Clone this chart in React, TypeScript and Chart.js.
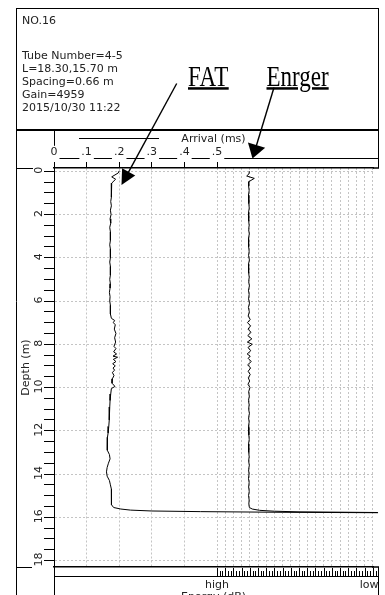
import React, { useEffect, useRef } from "react";
import { Chart, registerables } from "chart.js";

Chart.register(...registerables);

// ---- data ----
const fatDepth = [
  -0.02, 0.08, 0.26, 0.37, 0.55, 0.8, 1.0, 1.2, 1.4, 1.6,
  1.8, 2.0, 2.2, 2.4, 2.6, 2.8, 3.0, 3.2, 3.4, 3.6,
  3.8, 4.0, 4.2, 4.4, 4.6, 4.8, 5.0, 5.2, 5.4, 5.6,
  5.8, 6.0, 6.2, 6.4, 6.6, 6.8, 6.9, 7.0, 7.1, 7.3,
  7.5, 7.7, 7.9, 8.1, 8.2, 8.35, 8.45, 8.55, 8.6, 8.7,
  8.8, 8.9, 9.0, 9.1, 9.2, 9.3, 9.45, 9.6, 9.8, 9.95,
  10.05, 10.3, 10.6, 10.9, 11.2, 11.5, 11.8, 12.1, 12.3, 12.6,
  12.9, 13.1, 13.3, 13.5, 13.7, 13.9, 14.1, 14.3, 14.5, 14.7,
  14.9, 15.1, 15.3, 15.42, 15.55, 15.62, 15.67, 15.71, 15.74, 15.77,
  15.79,
];
const fatArrival = [
  0.2, 0.197, 0.177, 0.189, 0.177, 0.176, 0.175, 0.177, 0.174, 0.176,
  0.173, 0.175, 0.172, 0.174, 0.171, 0.173, 0.172, 0.174, 0.171, 0.173,
  0.172, 0.174, 0.171, 0.173, 0.172, 0.174, 0.171, 0.173, 0.172, 0.17,
  0.172, 0.171, 0.173, 0.172, 0.174, 0.176, 0.186, 0.182, 0.188, 0.185,
  0.19, 0.186, 0.189, 0.184, 0.19, 0.183, 0.192, 0.181, 0.195, 0.182,
  0.19, 0.18, 0.188, 0.181, 0.186, 0.179, 0.184, 0.179, 0.178, 0.187,
  0.176, 0.174, 0.172, 0.171, 0.17, 0.169, 0.168, 0.166, 0.164, 0.163,
  0.164, 0.17, 0.172, 0.167, 0.163, 0.161, 0.163, 0.17, 0.173, 0.176,
  0.175, 0.177, 0.176, 0.177, 0.183, 0.205, 0.235, 0.3, 0.45, 0.7,
  0.994,
];

const energyDepth = [
  0.0, 0.12, 0.22, 0.33, 0.48, 0.7, 0.9, 1.1, 1.3, 1.5,
  1.7, 1.9, 2.1, 2.3, 2.5, 2.7, 2.9, 3.1, 3.3, 3.5,
  3.7, 3.9, 4.1, 4.3, 4.5, 4.7, 4.9, 5.1, 5.3, 5.5,
  5.7, 5.9, 6.1, 6.3, 6.5, 6.7, 6.85, 7.0, 7.15, 7.3,
  7.45, 7.6, 7.75, 7.9, 8.0, 8.15, 8.3, 8.45, 8.55, 8.65,
  8.8, 8.95, 9.1, 9.25, 9.4, 9.55, 9.7, 9.85, 10.0, 10.2,
  10.4, 10.6, 10.8, 11.0, 11.2, 11.4, 11.6, 11.8, 12.0, 12.2,
  12.4, 12.6, 12.8, 13.0, 13.2, 13.4, 13.6, 13.8, 14.0, 14.2,
  14.4, 14.6, 14.8, 15.0, 15.2, 15.4, 15.55, 15.62, 15.68, 15.72,
  15.75, 15.78,
];
const energyLevel = [
  3.95, 3.9, 3.62, 4.55, 3.9, 3.86, 3.92, 3.84, 3.9, 3.86,
  3.93, 3.85, 3.9, 3.83, 3.92, 3.86, 3.94, 3.84, 3.9, 3.82,
  3.92, 3.85, 3.95, 3.84, 3.9, 3.82, 3.93, 3.86, 3.95, 3.84,
  3.92, 3.85, 3.96, 3.83, 3.94, 3.8, 4.05, 3.72, 4.1, 3.78,
  4.15, 3.75, 4.25, 3.7, 4.3, 3.78, 4.12, 3.68, 4.05, 3.8,
  4.18, 3.74, 4.1, 3.8, 4.05, 3.82, 3.98, 3.78, 4.02, 3.86,
  3.94, 3.84, 3.92, 3.86, 3.95, 3.85, 3.92, 3.84, 3.9, 3.86,
  3.93, 3.85, 3.9, 3.84, 3.92, 3.86, 3.94, 3.85, 3.91, 3.84,
  3.92, 3.86, 3.93, 3.85, 3.92, 3.88, 3.95, 4.3, 5.2, 7.0,
  10.0, 19.6,
];

const arrivalTicks = [0, 0.1, 0.2, 0.3, 0.4, 0.5];
const arrivalTickLabels = ["0", ".1", ".2", ".3", ".4", ".5"];
const depthTicks = [0, 2, 4, 6, 8, 10, 12, 14, 16, 18];
const depthTickLabels = ["0", "2", "4", "6", "8", "10", "12", "14", "16", "18"];
const energyGrid = [0, 1, 2, 3, 4, 5, 6, 7, 8, 9, 10, 11, 12, 13, 14, 15, 16, 17, 18, 19];
const energyLabelValues = [0, 18.54];
const energyLabels = ["high", "low"];

const title = "NO.16";
const headerLines = [
  "Tube Number=4-5",
  "L=18.30,15.70 m",
  "Spacing=0.66 m",
  "Gain=4959",
  "2015/10/30 11:22",
];
const calloutLabels = ["FAT", "Enrger"];

const FONT = "'DejaVu Sans', Verdana, sans-serif";
const FS = 11;
const GRID = "#c4c4c4";

function seg(ctx: CanvasRenderingContext2D, x1: number, y1: number, x2: number, y2: number, w = 1) {
  ctx.lineWidth = w;
  ctx.beginPath();
  ctx.moveTo(x1, y1);
  ctx.lineTo(x2, y2);
  ctx.stroke();
}

function arrow(ctx: CanvasRenderingContext2D, x1: number, y1: number, x2: number, y2: number, len: number, half: number) {
  const dx = x2 - x1;
  const dy = y2 - y1;
  const d = Math.hypot(dx, dy);
  const ux = dx / d;
  const uy = dy / d;
  const bx = x2 - ux * len;
  const by = y2 - uy * len;
  seg(ctx, x1, y1, bx + ux * 2, by + uy * 2, 1.4);
  ctx.beginPath();
  ctx.moveTo(x2, y2);
  ctx.lineTo(bx - uy * half, by + ux * half);
  ctx.lineTo(bx + uy * half, by - ux * half);
  ctx.closePath();
  ctx.fill();
}

const framePlugin = {
  id: "frame",
  beforeDraw(chart: any) {
    const ctx: CanvasRenderingContext2D = chart.ctx;
    const ca = chart.chartArea;
    const R = 378.5;
    ctx.save();
    ctx.strokeStyle = "#000";
    // outer border
    seg(ctx, 16.5, 8, 16.5, 595);
    seg(ctx, 16, 8.5, R + 0.5, 8.5);
    seg(ctx, R, 8, R, ca.top);
    // header separator
    seg(ctx, 16, 130, R + 0.5, 130, 2);
    // top axis band
    seg(ctx, ca.left + 0.5, 130, ca.left + 0.5, ca.top);
    seg(ctx, ca.left, 158.5, R, 158.5);
    seg(ctx, 79, 138.5, 159, 138.5);
    seg(ctx, ca.right - 1, ca.top, R + 0.5, ca.top, 1.5);
    // left label panel lines
    seg(ctx, 16, ca.top + 0.5, 33, ca.top + 0.5);
    seg(ctx, 16, ca.bottom + 0.5, 32, ca.bottom + 0.5);
    // bottom band
    seg(ctx, ca.right - 1, ca.bottom, R + 0.5, ca.bottom, 1.5);
    seg(ctx, ca.left, ca.bottom + 9.5, R + 0.5, ca.bottom + 9.5);
    seg(ctx, ca.left + 0.5, ca.bottom, ca.left + 0.5, 595);
    seg(ctx, R, ca.bottom, R, 595);
    ctx.restore();
  },
  afterDraw(chart: any) {
    const ctx: CanvasRenderingContext2D = chart.ctx;
    const ca = chart.chartArea;
    const yS = chart.scales.y;
    const eS = chart.scales.xe;
    ctx.save();
    // rotated depth tick labels
    ctx.fillStyle = "#222";
    ctx.font = `${FS}px ${FONT}`;
    ctx.textAlign = "center";
    ctx.textBaseline = "alphabetic";
    depthTicks.forEach((v, i) => {
      const py = yS.getPixelForValue(v);
      ctx.save();
      ctx.translate(42, py - 1);
      ctx.rotate(-Math.PI / 2);
      ctx.fillText(depthTickLabels[i], 0, 0);
      ctx.restore();
    });
    // energy ruler ticks
    ctx.strokeStyle = "#000";
    for (let k = 0; ; k++) {
      const v = k / 3;
      const px = Math.round(eS.getPixelForValue(v)) + 0.5;
      if (px > 378.6) break;
      const top = k % 3 === 0 ? ca.bottom + 1 : ca.bottom + 4;
      seg(ctx, px, top, px, ca.bottom + 9);
    }
    // callout arrows
    ctx.fillStyle = "#000";
    ctx.strokeStyle = "#000";
    arrow(ctx, 176.7, 83.5, 121.5, 185, 15, 7.5);
    arrow(ctx, 274, 87.5, 252.5, 158.5, 14, 9);
    ctx.restore();
  },
};

export default function App() {
  const canvasRef = useRef<HTMLCanvasElement | null>(null);

  useEffect(() => {
    const canvas = canvasRef.current;
    if (!canvas) return;
    const fatPoints = fatDepth.map((d, i) => ({ x: fatArrival[i], y: d }));
    const energyPoints = energyDepth.map((d, i) => ({ x: energyLevel[i], y: d }));
    const font = { family: FONT, size: FS };

    const chart = new Chart(canvas, {
      type: "scatter",
      data: {
        datasets: [
          {
            label: "FAT",
            data: fatPoints,
            xAxisID: "x",
            yAxisID: "y",
            showLine: true,
            borderColor: "#000",
            borderWidth: 1,
            pointRadius: 0,
            clip: { left: 2, top: 4, right: 6, bottom: 2 },
          },
          {
            label: "Energy",
            data: energyPoints,
            xAxisID: "xe",
            yAxisID: "y",
            showLine: true,
            borderColor: "#000",
            borderWidth: 1,
            pointRadius: 0,
            clip: { left: 2, top: 4, right: 6, bottom: 2 },
          },
        ],
      },
      options: {
        animation: false,
        responsive: false,
        devicePixelRatio: 1,
        events: [],
        layout: { padding: { top: 130, left: 16, right: 12, bottom: 0 } },
        plugins: { legend: { display: false }, tooltip: { enabled: false }, title: { display: false } },
        scales: {
          x: {
            type: "linear",
            position: "top",
            min: 0,
            max: 0.9785,
            afterBuildTicks: (axis: any) => {
              axis.ticks = arrivalTicks.map((v) => ({ value: v }));
            },
            afterFit: (axis: any) => {
              axis.height = 38;
            },
            ticks: {
              autoSkip: false,
              maxRotation: 0,
              minRotation: 0,
              padding: 0,
              color: "#222",
              font,
              callback: (_v: any, i: number) => arrivalTickLabels[i],
              showLabelBackdrop: true,
              backdropColor: "#ffffff",
              backdropPadding: { top: 0, bottom: 3, left: 2, right: 2 },
            },
            grid: {
              color: (c: any) => (c.tick && c.tick.value > 0 && c.tick.value < 0.45 ? GRID : "transparent"),
              tickColor: "#000",
              tickLength: 9,
              lineWidth: 1,
            },
            border: { display: true, color: "#000", width: 1.5, dash: [2, 2] },
            title: {
              display: true,
              text: "Arrival (ms)",
              color: "#222",
              font,
              padding: { top: 3, bottom: 0 },
            },
          },
          xe: {
            type: "linear",
            position: "bottom",
            min: -19.878,
            max: 19.024,
            afterBuildTicks: (axis: any) => {
              axis.ticks = [...energyGrid, ...energyLabelValues.slice(1)]
                .sort((a, b) => a - b)
                .map((v) => ({ value: v }));
            },
            afterFit: (axis: any) => {
              axis.height = 28;
            },
            ticks: {
              autoSkip: false,
              maxRotation: 0,
              minRotation: 0,
              padding: 3,
              color: "#222",
              font,
              callback: (v: any) => {
                const idx = energyLabelValues.findIndex((e) => Math.abs(e - v) < 1e-6);
                return idx >= 0 ? energyLabels[idx] : "";
              },
            },
            grid: {
              color: (c: any) =>
                c.tick && Number.isInteger(c.tick.value) ? GRID : "transparent",
              tickColor: "transparent",
              tickLength: 9,
              lineWidth: 1,
            },
            border: { display: true, color: "#000", width: 1.5, dash: [2, 2] },
            title: {
              display: true,
              text: "Energy (dB)",
              color: "#222",
              font,
              padding: { top: 0, bottom: -9 },
            },
          },
          y: {
            type: "linear",
            position: "left",
            reverse: true,
            min: -0.15,
            max: 18.3,
            afterBuildTicks: (axis: any) => {
              const t: any[] = [];
              for (let k = 0; k <= 36; k++) t.push({ value: k / 2 });
              axis.ticks = t;
            },
            afterFit: (axis: any) => {
              axis.width = 38;
            },
            ticks: { display: false },
            grid: {
              color: (c: any) =>
                c.tick && c.tick.value % 2 === 0 ? GRID : "transparent",
              tickColor: "#000",
              tickLength: 10,
              lineWidth: 1,
            },
            border: { display: true, color: "#000", width: 1, dash: [2, 2] },
            title: {
              display: true,
              text: "Depth (m)",
              color: "#222",
              font,
              padding: { top: 4, bottom: 0 },
            },
          },
        },
      } as any,
      plugins: [framePlugin],
    });
    return () => chart.destroy();
  }, []);

  const textStyle: React.CSSProperties = {
    position: "absolute",
    fontFamily: FONT,
    fontSize: FS,
    lineHeight: "13px",
    color: "#222",
    whiteSpace: "nowrap",
  };
  const calloutStyle: React.CSSProperties = {
    position: "absolute",
    top: 66.75,
    fontFamily: "'Liberation Serif', 'Times New Roman', serif",
    fontSize: 23,
    lineHeight: "23px",
    color: "#000",
    textDecoration: "underline",
    textDecorationThickness: "1.5px",
    whiteSpace: "nowrap",
    transform: "scaleY(1.25)",
    transformOrigin: "left 19.25px",
  };

  return (
    <div style={{ position: "fixed", left: 0, top: 0, width: 385, height: 595, background: "#fff", overflow: "hidden" }}>
      <canvas ref={canvasRef} width={385} height={595} style={{ position: "absolute", left: 0, top: 0, width: 385, height: 595 }} />
      <div style={{ ...textStyle, left: 22, top: 13.7 }}>{title}</div>
      <div style={{ ...textStyle, left: 22, top: 48.7 }}>
        {headerLines.map((l) => (
          <div key={l}>{l}</div>
        ))}
      </div>
      <div style={{ ...calloutStyle, left: 188, letterSpacing: "0.5px" }}>{calloutLabels[0]}</div>
      <div style={{ ...calloutStyle, left: 266.5 }}>{calloutLabels[1]}</div>
    </div>
  );
}
